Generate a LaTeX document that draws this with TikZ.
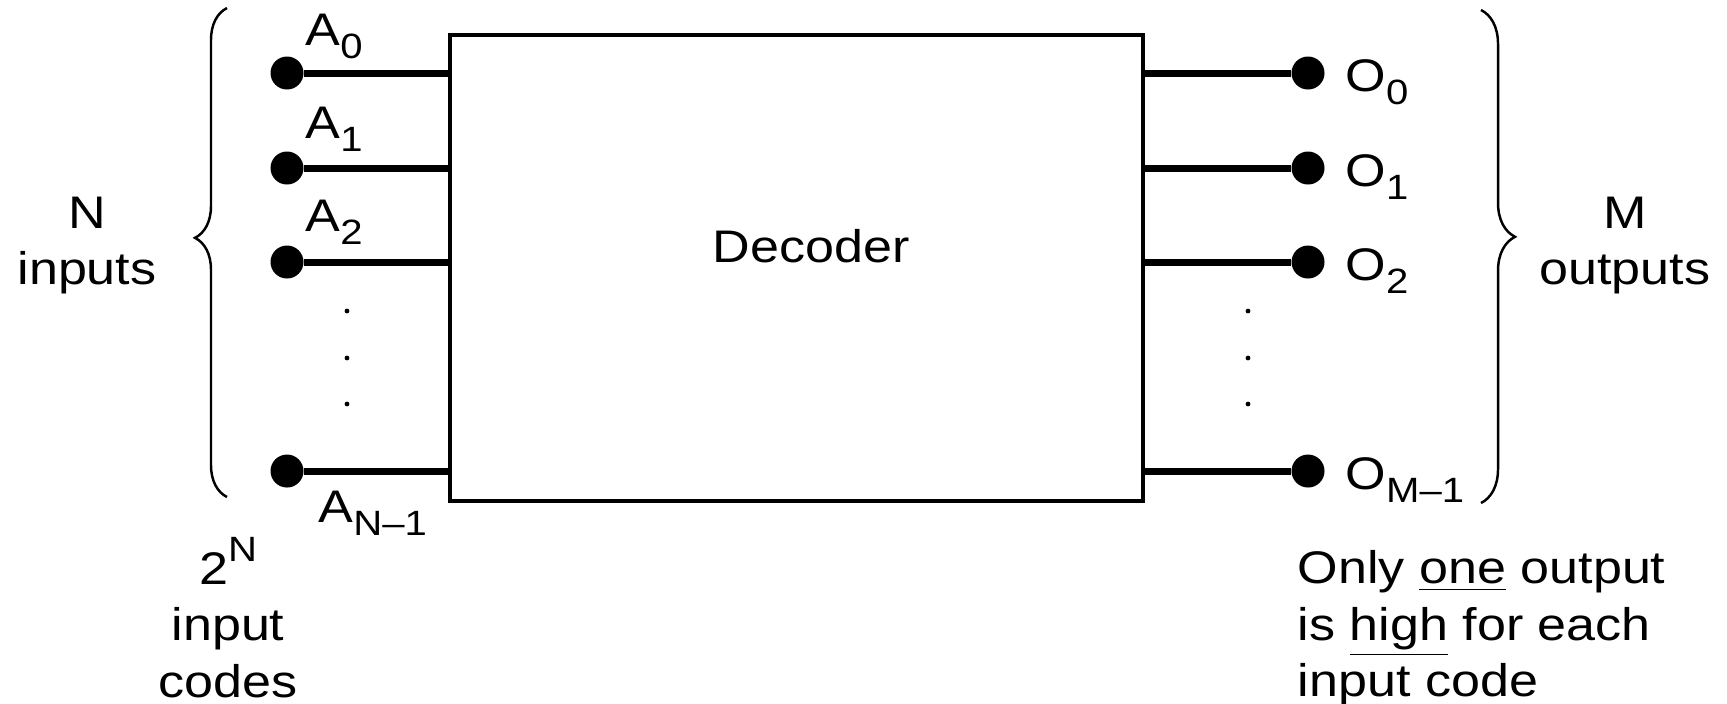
\documentclass[tikz,border=0pt]{standalone}
\usepackage{fontspec}
\setmainfont[FakeStretch=1.14]{Liberation Sans}
\usetikzlibrary{decorations.pathreplacing,calc,positioning}
\tikzstyle{wire}=[line width=2pt]
\tikzstyle{terminal}=[circle,fill=black,inner sep=0pt,minimum size=0.33cm]
\tikzstyle{curly}=[line width=0.7pt,decorate]
\tikzstyle{plain}=[inner sep=0pt,align=center]
\newcommand{\lowidx}[1]{\raisebox{-0.3em}{\fontsize{10}{12}\selectfont #1}}
\newcommand{\highidx}[1]{\raisebox{0.5em}{\fontsize{10}{12}\selectfont #1}}
\newcommand{\dotcolumn}[1]{
	\fill (#1,-3.11) circle (0.024);
	\fill (#1,-3.58) circle (0.024);
	\fill (#1,-4.04) circle (0.024);
}

\begin{document}
\begin{tikzpicture}[font=\fontsize{13}{16}\selectfont]
	\useasboundingbox (0,0) rectangle (17.27,-7.03);
	\node[draw,line width=1.1pt,minimum width=6.93cm,minimum height=4.66cm,inner sep=0pt] (dec) at (7.965,-2.68) {};
	\node[anchor=base] (decname) at (8.11,-2.62) {Decoder};
	% inputs
	\node[terminal] (a0) at (2.87,-0.73) {};
	\node[terminal] (a1) at (2.87,-1.68) {};
	\node[terminal] (a2) at (2.87,-2.62) {};
	\node[terminal] (an) at (2.87,-4.71) {};
	\draw[wire] (a0) -- (a0 -| dec.west);
	\draw[wire] (a1) -- (a1 -| dec.west);
	\draw[wire] (a2) -- (a2 -| dec.west);
	\draw[wire] (an) -- (an -| dec.west);
	\node[anchor=base west,inner sep=0pt] (la0) at (3.05,-0.45) {A\lowidx{0}};
	\node[anchor=base west,inner sep=0pt] (la1) at (3.05,-1.38) {A\lowidx{1}};
	\node[anchor=base west,inner sep=0pt] (la2) at (3.05,-2.31) {A\lowidx{2}};
	\node[anchor=base west,inner sep=0pt] (lan) at (3.18,-5.22) {A\lowidx{N--1}};
	\dotcolumn{3.47}
	% outputs
	\node[terminal] (o0) at (13.08,-0.73) {};
	\node[terminal] (o1) at (13.08,-1.68) {};
	\node[terminal] (o2) at (13.08,-2.62) {};
	\node[terminal] (om) at (13.08,-4.71) {};
	\draw[wire] (o0 -| dec.east) -- (o0);
	\draw[wire] (o1 -| dec.east) -- (o1);
	\draw[wire] (o2 -| dec.east) -- (o2);
	\draw[wire] (om -| dec.east) -- (om);
	\node[anchor=base west,inner sep=0pt] (lo0) at (13.45,-0.91) {O\lowidx{0}};
	\node[anchor=base west,inner sep=0pt] (lo1) at (13.45,-1.86) {O\lowidx{1}};
	\node[anchor=base west,inner sep=0pt] (lo2) at (13.45,-2.80) {O\lowidx{2}};
	\node[anchor=base west,inner sep=0pt] (lom) at (13.45,-4.89) {O\lowidx{M--1}};
	\dotcolumn{12.48}
	% braces and notes
	\draw[curly,decoration={brace,amplitude=0.32cm,aspect=0.53}] (2.27,-4.97) -- (2.27,-0.08);
	\draw[curly,decoration={brace,amplitude=0.34cm,aspect=0.46}] (14.81,-0.10) -- (14.81,-5.03);
	\node[plain,anchor=north] (ninputs) at (0.87,-1.96) {N\\inputs};
	\node[plain,anchor=north] (moutputs) at (16.25,-1.96) {M\\outputs};
	\node[plain,anchor=north] (codes) at (2.28,-5.37) {2\highidx{N}\\input\\codes};
	\node[plain,anchor=north west,align=left] (rule) at (12.97,-5.50) {Only \underline{one} output\\is \underline{high} for each\\input code};
\end{tikzpicture}
\end{document}
